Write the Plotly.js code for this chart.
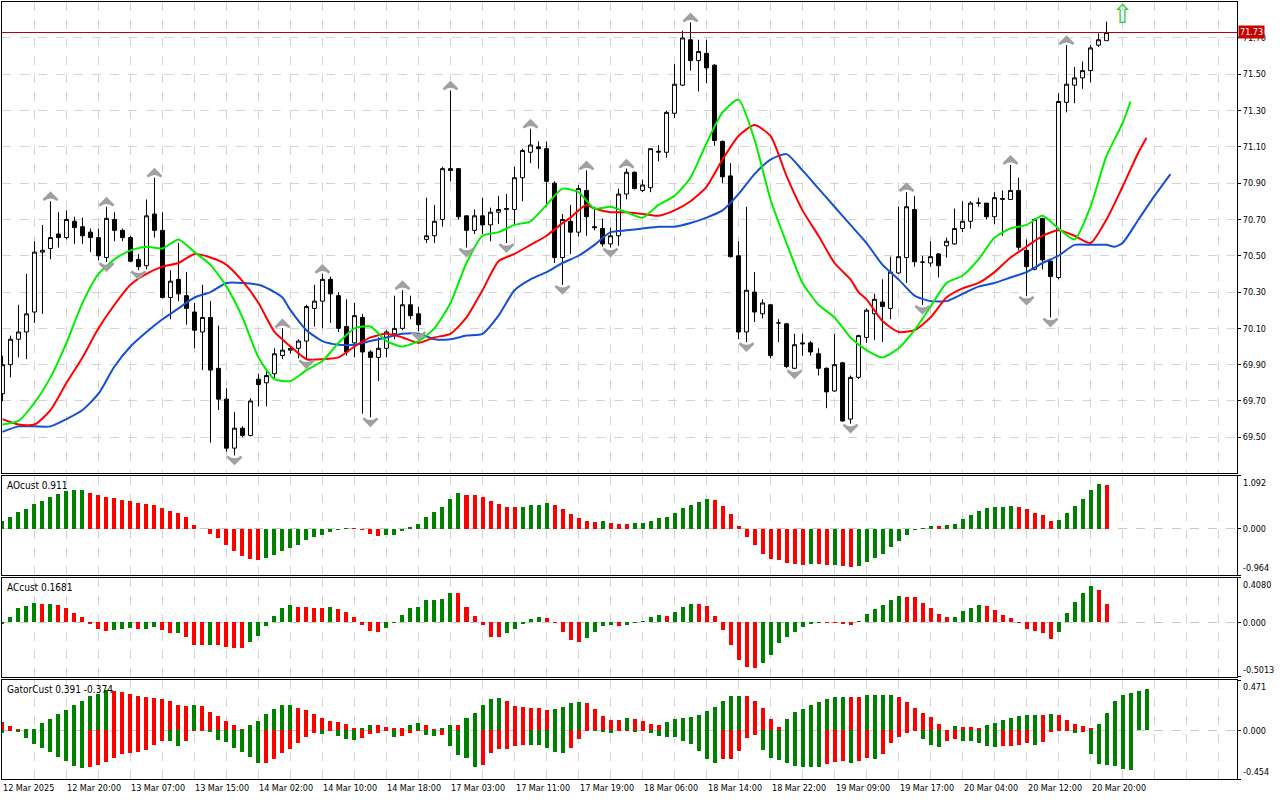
<!DOCTYPE html>
<html><head><meta charset="utf-8">
<script src="https://cdn.plot.ly/plotly-3.0.1.min.js"></script>
<style>html,body{margin:0;padding:0;background:#fff;}#chart{width:1280px;height:800px;}</style>
</head><body><div id="chart"></div>
<script>
// ---------- price bars (H1) ----------
const openP = [69.74,69.90,70.04,70.08,70.19,70.52,70.54,70.62,70.60,70.69,
70.66,70.63,70.60,70.49,70.70,70.64,70.60,70.48,70.445,70.73,
70.64,70.27,70.37,70.28,70.19,70.08,70.16,69.88,69.71,69.44,
69.55,69.51,69.82,69.80,69.85,69.95,69.98,69.99,70.03,70.21,
70.25,70.37,70.28,70.11,70.02,70.16,69.97,69.94,69.99,70.07,
70.10,70.23,70.18,70.59,70.61,70.70,70.98,70.98,70.72,70.64,
70.72,70.67,70.74,70.755,70.755,70.93,71.07,71.10,71.09,70.90,
70.49,70.69,70.63,70.86,70.66,70.65,70.565,70.61,70.84,70.96,
70.86,70.875,71.07,71.07,71.285,71.44,71.69,71.575,71.615,71.55,
71.13,70.94,70.50,70.08,70.30,70.18,70.23,70.13,70.125,69.88,
70.02,70.02,69.96,69.88,69.755,69.91,69.60,69.83,70.05,70.18,
70.245,70.21,70.405,70.49,70.755,70.465,70.46,70.51,70.555,70.565,
70.65,70.69,70.79,70.79,70.715,70.81,70.81,70.86,70.53,70.425,
70.705,70.47,70.38,71.345,71.44,71.48,71.52,71.66,71.685];
const highP = [69.95,70.06,70.23,70.40,70.58,70.67,70.80,70.74,70.75,70.715,
70.71,70.65,70.65,70.77,70.74,70.65,70.61,70.51,70.81,70.93,
70.74,70.42,70.57,70.41,70.24,70.34,70.25,70.115,69.77,69.64,
69.56,69.715,69.85,69.875,69.99,70.10,70.00,70.04,70.23,70.34,
70.40,70.385,70.30,70.26,70.24,70.18,69.98,70.05,70.09,70.28,
70.31,70.28,70.22,70.82,70.78,70.99,71.41,70.98,70.72,70.755,
70.82,70.765,70.83,70.84,70.99,71.09,71.20,71.13,71.13,70.91,
70.73,70.78,70.89,70.97,70.77,70.705,70.655,70.87,70.98,70.965,
70.92,71.09,71.11,71.30,71.555,71.74,71.785,71.69,71.69,71.555,
71.135,71.01,70.58,70.77,70.41,70.26,70.235,70.15,70.13,70.07,
70.07,70.03,69.99,69.885,70.07,69.915,69.84,70.065,70.21,70.29,
70.37,70.495,70.77,70.85,70.83,70.50,70.58,70.515,70.60,70.76,
70.80,70.80,70.82,70.79,70.85,70.86,71.00,70.93,70.59,70.705,
70.71,70.48,71.395,71.66,71.54,71.57,71.66,71.725,71.79];
const lowP = [69.70,69.83,69.94,69.93,70.13,70.18,70.48,70.545,70.59,70.565,
70.565,70.52,70.475,70.465,70.58,70.58,70.465,70.42,70.425,70.60,
70.265,70.15,70.25,70.12,69.99,69.87,69.47,69.65,69.42,69.40,
69.50,69.505,69.67,69.67,69.82,69.93,69.96,69.935,69.93,70.11,
70.10,70.13,70.08,69.95,69.94,69.63,69.61,69.81,69.94,70.04,
70.09,70.15,70.085,70.57,70.57,70.66,70.91,70.70,70.545,70.62,
70.62,70.58,70.675,70.57,70.675,70.80,71.01,70.98,70.77,70.46,
70.34,70.51,70.605,70.61,70.64,70.55,70.545,70.555,70.81,70.865,
70.85,70.85,71.02,71.04,71.26,71.435,71.52,71.405,71.45,71.105,
70.90,70.49,70.04,70.025,70.135,70.155,69.935,70.025,69.88,69.875,
69.95,69.95,69.84,69.66,69.75,69.585,69.575,69.82,70.02,70.035,
70.025,70.15,70.40,70.35,70.44,70.23,70.44,70.38,70.49,70.56,
70.63,70.65,70.77,70.70,70.675,70.61,70.81,70.53,70.28,70.42,
70.425,70.16,70.37,71.29,71.34,71.42,71.455,71.65,71.685];
const closeP = [69.90,70.04,70.08,70.18,70.52,70.53,70.60,70.60,70.70,70.655,
70.61,70.60,70.50,70.706,70.64,70.60,70.47,70.44,70.72,70.64,
70.27,70.36,70.29,70.21,70.09,70.16,69.87,69.71,69.44,69.55,
69.51,69.70,69.79,69.84,69.96,69.98,69.99,70.03,70.22,70.25,
70.37,70.29,70.10,69.97,70.17,69.97,69.94,69.99,70.08,70.10,
70.23,70.17,70.12,70.61,70.69,70.98,70.97,70.715,70.64,70.72,
70.67,70.74,70.755,70.76,70.93,71.08,71.11,71.09,70.91,70.49,
70.70,70.63,70.87,70.715,70.655,70.565,70.61,70.84,70.96,70.87,
70.89,71.09,71.075,71.29,71.445,71.70,71.575,71.625,71.535,71.135,
70.935,70.495,70.08,70.31,70.19,70.24,69.95,70.13,69.89,70.01,
70.015,69.97,69.88,69.75,69.90,69.59,69.83,70.06,70.20,70.26,
70.22,70.41,70.495,70.77,70.467,70.465,70.495,70.445,70.58,70.65,
70.69,70.79,70.79,70.715,70.82,70.815,70.86,70.547,70.44,70.70,
70.477,70.385,71.35,71.445,71.48,71.52,71.645,71.69,71.73];
const lastPrice = 71.73;

// time labels every 8 bars
const timeLabelBars = [0,8,16,24,32,40,48,56,64,72,80,88,96,104,112,120,128,136];
const timeLabels = ["12 Mar 2025","12 Mar 20:00","13 Mar 07:00","13 Mar 15:00","14 Mar 02:00","14 Mar 10:00",
"14 Mar 18:00","17 Mar 03:00","17 Mar 11:00","17 Mar 19:00","18 Mar 06:00","18 Mar 14:00",
"18 Mar 22:00","19 Mar 09:00","19 Mar 17:00","20 Mar 04:00","20 Mar 12:00","20 Mar 20:00"];

// ---------- Alligator ----------
const jawIdx = [0,2,4,6,8,10,12,14,16,18,20,22,24,26,28,30,32,34,35,36,38,40,42,44,46,48,50,52,54,56,58,60,62,64,66,68,70,72,74,76,78,80,82,84,86,88,90,92,94,96,98,100,102,104,106,108,110,112,114,116,118,120,122,124,126,128,130,132,134,136,138,139,140,142,144,146];
const jawVal = [69.53,69.56,69.56,69.56,69.60,69.65,69.74,69.89,70.00,70.08,70.15,70.21,70.27,70.30,70.35,70.35,70.34,70.30,70.27,70.20,70.09,70.03,70.01,70.01,70.03,70.05,70.07,70.07,70.04,70.04,70.06,70.07,70.17,70.31,70.37,70.41,70.46,70.50,70.56,70.63,70.64,70.65,70.66,70.66,70.68,70.71,70.75,70.84,70.95,71.03,71.06,70.97,70.87,70.77,70.67,70.57,70.45,70.37,70.28,70.25,70.25,70.29,70.33,70.35,70.38,70.41,70.46,70.50,70.56,70.56,70.56,70.55,70.57,70.70,70.83,70.95];
const teethIdx = [0,2,4,6,8,10,12,14,16,18,20,22,24,26,28,30,32,34,36,38,40,42,44,46,48,50,52,54,56,58,60,62,64,66,68,70,71,72,73,74,76,78,80,82,84,86,88,90,92,94,96,98,100,102,104,106,107,108,110,112,114,116,118,120,122,124,126,128,130,132,134,136,138,140,142,143];
const teethVal = [69.60,69.57,69.57,69.65,69.80,69.94,70.10,70.23,70.34,70.40,70.44,70.46,70.51,70.49,70.45,70.36,70.24,70.08,70.00,69.93,69.93,69.94,70.00,70.05,70.07,70.05,70.02,70.05,70.07,70.16,70.31,70.47,70.51,70.56,70.61,70.68,70.71,70.75,70.78,70.76,70.74,70.74,70.73,70.72,70.75,70.80,70.88,71.03,71.16,71.22,71.16,70.94,70.75,70.61,70.46,70.37,70.30,70.26,70.14,70.08,70.09,70.16,70.27,70.32,70.35,70.41,70.49,70.55,70.61,70.64,70.61,70.57,70.70,70.88,71.07,71.15];
const lipsIdx = [0,2,4,6,8,10,12,14,16,18,20,22,24,26,28,30,32,34,36,38,40,42,44,46,48,50,52,54,56,58,60,62,64,66,68,70,72,74,76,78,80,82,84,86,88,90,92,94,96,98,100,102,104,106,108,110,112,114,116,118,120,122,124,126,128,130,132,134,136,138,140,141];
const lipsVal = [69.57,69.59,69.69,69.83,70.02,70.24,70.40,70.48,70.53,70.55,70.54,70.59,70.52,70.45,70.33,70.16,69.94,69.82,69.81,69.87,69.92,70.02,70.10,70.11,70.03,70.00,70.03,70.10,70.24,70.46,70.61,70.63,70.67,70.69,70.78,70.87,70.85,70.76,70.77,70.74,70.71,70.78,70.83,70.93,71.12,71.29,71.36,71.14,70.81,70.57,70.35,70.23,70.16,70.05,69.98,69.94,69.99,70.09,70.22,70.35,70.39,70.48,70.60,70.65,70.67,70.72,70.65,70.59,70.77,71.05,71.23,71.35];

// ---------- Fractals & signal ----------
const fractalUpBars = [6,13,19,35,40,50,56,66,73,78,86,113,126,133];
const fractalDownBars = [13,17,29,38,46,52,58,63,70,76,93,99,106,115,128,131];
const signalBar = [140];
const signalPrice = [71.82];

// ---------- AO ----------
const aoVal = [0.166,0.248,0.352,0.414,0.518,0.580,0.662,0.725,0.787,0.805,
0.808,0.745,0.704,0.662,0.642,0.600,0.580,0.538,0.518,0.497,
0.435,0.373,0.331,0.248,0.083,-0.007,-0.104,-0.200,-0.331,-0.455,
-0.559,-0.621,-0.642,-0.614,-0.538,-0.455,-0.393,-0.331,-0.242,-0.179,
-0.124,-0.062,-0.028,0.014,0.010,-0.021,-0.104,-0.145,-0.140,-0.124,
-0.041,0.035,0.104,0.248,0.352,0.455,0.621,0.745,0.704,0.700,
0.662,0.580,0.518,0.455,0.452,0.456,0.497,0.499,0.538,0.497,
0.400,0.297,0.214,0.166,0.145,0.148,0.124,0.104,0.101,0.106,
0.124,0.166,0.214,0.248,0.317,0.421,0.497,0.559,0.621,0.600,
0.476,0.311,0.062,-0.166,-0.345,-0.518,-0.621,-0.642,-0.704,-0.745,
-0.750,-0.725,-0.745,-0.748,-0.746,-0.766,-0.787,-0.766,-0.683,-0.600,
-0.518,-0.386,-0.248,-0.138,-0.035,0.014,0.062,0.058,0.083,0.104,
0.207,0.276,0.373,0.435,0.455,0.458,0.476,0.455,0.400,0.331,
0.290,0.166,0.170,0.331,0.476,0.621,0.807,0.925,0.911];
const aoRange = [-0.964, 1.092];

// ---------- AC ----------
const acVal = [-0.015,0.046,0.129,0.147,0.175,0.166,0.167,0.157,0.129,0.083,
0.046,-0.015,-0.061,-0.083,-0.071,-0.061,-0.052,-0.064,-0.062,-0.043,
-0.071,-0.098,-0.096,-0.138,-0.203,-0.212,-0.203,-0.212,-0.230,-0.231,
-0.232,-0.184,-0.129,-0.037,0.055,0.129,0.157,0.138,0.137,0.136,
0.129,0.138,0.120,0.092,0.046,-0.025,-0.080,-0.089,-0.055,-0.003,
0.064,0.129,0.138,0.203,0.204,0.212,0.267,0.266,0.138,0.055,
-0.025,-0.135,-0.136,-0.098,-0.061,-0.015,0.028,0.046,0.045,-0.006,
-0.089,-0.163,-0.181,-0.144,-0.089,-0.034,-0.025,-0.034,-0.025,-0.006,
0.015,0.046,0.064,0.063,0.092,0.138,0.166,0.165,0.147,0.055,
-0.071,-0.209,-0.347,-0.411,-0.421,-0.375,-0.301,-0.193,-0.135,-0.089,
-0.046,-0.015,-0.006,-0.007,-0.009,-0.015,-0.025,0.009,0.074,0.120,
0.157,0.203,0.239,0.238,0.230,0.175,0.129,0.074,0.046,0.047,
0.101,0.129,0.157,0.147,0.111,0.064,0.037,-0.006,-0.061,-0.080,
-0.098,-0.154,-0.089,0.083,0.184,0.267,0.332,0.295,0.1681];
const acRange = [-0.5013, 0.4080];

// ---------- Gator ----------
const gatorUp = [0.081,0.043,0.010,0.011,0.014,0.068,0.105,0.152,0.189,0.236,
0.273,0.319,0.338,0.375,0.366,0.357,0.338,0.319,0.310,0.301,
0.291,0.273,0.236,0.226,0.236,0.226,0.171,0.133,0.087,0.050,
0.012,0.050,0.087,0.152,0.198,0.236,0.238,0.208,0.189,0.152,
0.115,0.087,0.078,0.059,0.022,0.023,0.050,0.049,0.031,0.022,
0.021,0.050,0.068,0.050,0.012,0.022,0.050,0.049,0.115,0.161,
0.236,0.291,0.301,0.273,0.226,0.217,0.208,0.207,0.189,0.198,
0.217,0.254,0.264,0.254,0.198,0.133,0.096,0.095,0.115,0.105,
0.087,0.059,0.050,0.078,0.105,0.115,0.124,0.143,0.180,0.217,
0.273,0.319,0.320,0.318,0.273,0.208,0.105,0.031,0.105,0.171,
0.198,0.236,0.264,0.291,0.310,0.311,0.309,0.308,0.329,0.330,
0.331,0.332,0.310,0.264,0.208,0.161,0.124,0.059,0.003,0.040,
0.031,0.030,0.022,0.050,0.068,0.096,0.115,0.133,0.143,0.144,
0.142,0.152,0.143,0.096,0.059,0.040,0.022,0.059,0.161,0.273,
0.329,0.347,0.366,0.391];
const gatorDown = [-0.025,-0.005,-0.012,-0.071,-0.124,-0.161,-0.198,-0.245,-0.282,-0.329,
-0.347,-0.345,-0.319,-0.291,-0.254,-0.217,-0.208,-0.198,-0.180,-0.133,
-0.096,-0.097,-0.143,-0.096,-0.003,-0.002,-0.019,-0.087,-0.112,-0.161,
-0.198,-0.245,-0.301,-0.300,-0.264,-0.208,-0.171,-0.115,-0.059,-0.025,
-0.030,-0.005,-0.050,-0.078,-0.087,-0.074,-0.037,-0.028,-0.009,-0.059,
-0.056,-0.028,-0.002,-0.047,-0.056,-0.046,-0.143,-0.226,-0.254,-0.338,
-0.319,-0.208,-0.171,-0.170,-0.143,-0.133,-0.134,-0.135,-0.161,-0.198,
-0.208,-0.161,-0.078,-0.006,-0.010,-0.012,-0.028,-0.009,-0.005,-0.019,
-0.009,-0.028,-0.056,-0.057,-0.065,-0.102,-0.130,-0.195,-0.264,-0.301,
-0.270,-0.264,-0.189,-0.068,-0.040,-0.186,-0.254,-0.273,-0.301,-0.329,
-0.338,-0.339,-0.340,-0.310,-0.291,-0.282,-0.301,-0.282,-0.254,-0.264,
-0.217,-0.121,-0.065,-0.028,-0.009,-0.084,-0.133,-0.152,-0.102,-0.084,
-0.096,-0.097,-0.121,-0.149,-0.152,-0.150,-0.149,-0.140,-0.121,-0.140,
-0.112,-0.019,-0.009,-0.003,-0.028,-0.019,-0.223,-0.310,-0.319,-0.329,
-0.357,-0.374];
const gatorRange = [-0.454, 0.471];

// ---------- build ----------
const G = '#008000', R = '#ff0000';
const idx = a => a.map((_, i) => i);
function trendColors(vals, firstColor, useAbs) {
  const out = []; let prev = firstColor;
  vals.forEach((v, i) => {
    if (i === 0) { out.push(firstColor); return; }
    const a = useAbs ? Math.abs(v) : v, b = useAbs ? Math.abs(vals[i-1]) : vals[i-1];
    const c = a > b ? G : (a < b ? R : prev);
    out.push(c); prev = c;
  });
  return out;
}
const bars = idx(openP);
const tickOff = 0.045; // price offset of fractal arrows from the extreme

const traces = [
  {type:'candlestick', x:bars, open:openP, high:highP, low:lowP, close:closeP, xaxis:'x', yaxis:'y',
   increasing:{fillcolor:'#ffffff', line:{color:'#000000', width:1}},
   decreasing:{fillcolor:'#000000', line:{color:'#000000', width:1}},
   whiskerwidth:0, hoverinfo:'skip', showlegend:false},
  {type:'scatter', mode:'lines', x:jawIdx, y:jawVal, line:{color:'#1450d2', width:2, shape:'spline', smoothing:0.6}, xaxis:'x', yaxis:'y', hoverinfo:'skip'},
  {type:'scatter', mode:'lines', x:teethIdx, y:teethVal, line:{color:'#ff0000', width:2, shape:'spline', smoothing:0.6}, xaxis:'x', yaxis:'y', hoverinfo:'skip'},
  {type:'scatter', mode:'lines', x:lipsIdx, y:lipsVal, line:{color:'#00ee00', width:2, shape:'spline', smoothing:0.6}, xaxis:'x', yaxis:'y', hoverinfo:'skip'},
  {type:'scatter', mode:'markers', x:fractalUpBars, y:fractalUpBars.map(i => highP[i] + tickOff),
   marker:{symbol:'arrow-wide', angle:0, size:10, color:'#a8a8a8', line:{color:'#a0a0a0', width:2.5}}, xaxis:'x', yaxis:'y', hoverinfo:'skip'},
  {type:'scatter', mode:'markers', x:fractalDownBars, y:fractalDownBars.map(i => lowP[i] - tickOff),
   marker:{symbol:'arrow-wide', angle:180, size:10, color:'#a8a8a8', line:{color:'#a0a0a0', width:2.5}}, xaxis:'x', yaxis:'y', hoverinfo:'skip'},
  {type:'scatter', mode:'text', x:signalBar, y:signalPrice, text:['⇧'], textposition:'middle center',
   textfont:{size:26, color:'#33cc33', family:'DejaVu Sans'}, xaxis:'x', yaxis:'y', hoverinfo:'skip'},
  {type:'bar', x:idx(aoVal), y:aoVal, marker:{color:trendColors(aoVal, G, false)}, width:0.5, xaxis:'x2', yaxis:'y2', hoverinfo:'skip'},
  {type:'bar', x:idx(acVal), y:acVal, marker:{color:trendColors(acVal, G, false)}, width:0.5, xaxis:'x3', yaxis:'y3', hoverinfo:'skip'},
  {type:'bar', x:idx(gatorUp), y:gatorUp, marker:{color:trendColors(gatorUp, R, false)}, width:0.5, xaxis:'x4', yaxis:'y4', hoverinfo:'skip'},
  {type:'bar', x:idx(gatorDown), y:gatorDown, marker:{color:trendColors(gatorDown, G, true)}, width:0.5, xaxis:'x4', yaxis:'y4', hoverinfo:'skip'}
];

const FONT = 'DejaVu Sans Condensed, DejaVu Sans, sans-serif';
const xRange = [-0.06, 154.31];
const gridC = '#d4d4d4';
function xax(anchor) {
  return {range:xRange, anchor:anchor, showgrid:true, gridcolor:gridC, griddash:'dash', gridwidth:1,
    dtick:4, tick0:0, showticklabels:false, ticks:'', zeroline:false,
    showline:true, linecolor:'#000', linewidth:1, mirror:true, fixedrange:true};
}
function yind(dom, rng, anchor) {
  return {domain:dom, range:rng, anchor:anchor, side:'right', tickvals:[rng[0],0,rng[1]], ticktext:['','0.000',''],
    showgrid:true, gridcolor:'#c8c8c8', griddash:'dash', zeroline:false, ticks:'outside', ticklen:3, tickcolor:'#000',
    showline:true, linecolor:'#000', linewidth:1, mirror:true, tickfont:{size:9, family:FONT, color:'#000'}};
}

const annotations = [];
timeLabelBars.forEach((b, k) => annotations.push({xref:'x4', yref:'paper', x:b, y:0, xanchor:'left', yanchor:'top',
  yshift:-2, xshift:-1, text:timeLabels[k], showarrow:false, font:{size:9, family:FONT, color:'#000'}}));
[['y2', aoRange, v=>v.toFixed(3)], ['y3', acRange, v=>v.toFixed(4)], ['y4', gatorRange, v=>v.toFixed(3)]].forEach(([ya, r, f]) => {
  annotations.push({xref:'paper', yref:ya, x:1, y:r[1], xanchor:'left', yanchor:'top', xshift:4, text:f(r[1]), showarrow:false, font:{size:9, family:FONT, color:'#000'}});
  annotations.push({xref:'paper', yref:ya, x:1, y:r[0], xanchor:'left', yanchor:'bottom', xshift:4, text:f(r[0]), showarrow:false, font:{size:9, family:FONT, color:'#000'}});
});
annotations.push({xref:'paper', yref:'y2', x:0, y:aoRange[1], xanchor:'left', yanchor:'top', xshift:3, yshift:-2,
  text:'AOcust ' + aoVal[aoVal.length-1].toFixed(3), showarrow:false, font:{size:10, family:FONT, color:'#000'}});
annotations.push({xref:'paper', yref:'y3', x:0, y:acRange[1], xanchor:'left', yanchor:'top', xshift:3, yshift:-2,
  text:'ACcust ' + acVal[acVal.length-1].toFixed(4), showarrow:false, font:{size:10, family:FONT, color:'#000'}});
annotations.push({xref:'paper', yref:'y4', x:0, y:gatorRange[1], xanchor:'left', yanchor:'top', xshift:3, yshift:-2,
  text:'GatorCust ' + gatorUp[gatorUp.length-1].toFixed(3) + ' ' + gatorDown[gatorDown.length-1].toFixed(3), showarrow:false, font:{size:10, family:FONT, color:'#000'}});
annotations.push({xref:'paper', yref:'y', x:1, y:lastPrice, xanchor:'left', yanchor:'middle', xshift:1,
  text:lastPrice.toFixed(2), showarrow:false, bgcolor:'#c80000', borderpad:1, font:{size:9, family:FONT, color:'#fff'}});

const layout = {
  width:1280, height:800, paper_bgcolor:'#fff', plot_bgcolor:'#fff',
  margin:{l:2, r:43, t:2, b:21}, showlegend:false, bargap:0, barmode:'overlay',
  font:{family:FONT, size:9, color:'#000'},
  xaxis:Object.assign(xax('y'), {rangeslider:{visible:false}}),
  xaxis2:xax('y2'), xaxis3:xax('y3'), xaxis4:xax('y4'),
  yaxis:{domain:[0.3938,1], range:[69.303,71.898], side:'right', dtick:0.2, tick0:69.5, tickformat:'.2f',
    showgrid:true, gridcolor:gridC, griddash:'dash', zeroline:false, ticks:'outside', ticklen:3, tickcolor:'#000',
    showline:true, linecolor:'#000', linewidth:1, mirror:true, tickfont:{size:9, family:FONT, color:'#000'}},
  yaxis2:yind([0.2625,0.390], aoRange, 'x2'),
  yaxis3:yind([0.1313,0.2587], acRange, 'x3'),
  yaxis4:yind([0,0.1274], gatorRange, 'x4'),
  shapes:[{type:'line', xref:'paper', x0:0, x1:1, yref:'y', y0:lastPrice, y1:lastPrice, line:{color:'#b40000', width:1}}],
  annotations:annotations
};
Plotly.newPlot('chart', traces, layout, {staticPlot:true, displayModeBar:false});
</script></body></html>
